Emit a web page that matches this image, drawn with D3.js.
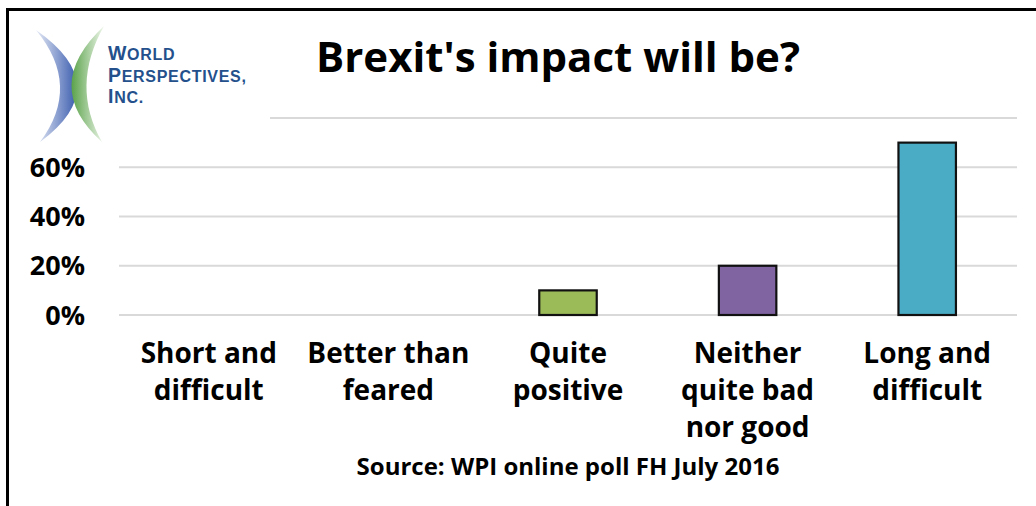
<!DOCTYPE html>
<html>
<head>
<meta charset="utf-8">
<script src="https://cdn.jsdelivr.net/npm/d3@7"></script>
<style>
  body { margin: 0; background: #fff; }
  svg { display: block; font-family: "Open Sans", sans-serif; }
</style>
</head>
<body>
<svg width="1036" height="506"></svg>
<script>
// poll answers, one entry per column (lines of the label)
var categories = [
  ["Short and", "difficult"],
  ["Better than", "feared"],
  ["Quite", "positive"],
  ["Neither", "quite bad", "nor good"],
  ["Long and", "difficult"]
];
var shares = [0, 0, 0.10, 0.20, 0.70];
var barColors = ["#9bbb59", "#9bbb59", "#9bbb59", "#8064a2", "#4bacc6"];
var yTicks = [0, 0.2, 0.4, 0.6, 0.8];
var title = "Brexit's impact will be?";
var source = "Source: WPI online poll FH July 2016";

var svg = d3.select("svg"),
    margin = {top: 118, right: 19, bottom: 191, left: 119},
    width = +svg.attr("width") - margin.left - margin.right,
    height = +svg.attr("height") - margin.top - margin.bottom;

var x = d3.scaleBand()
    .domain(d3.range(categories.length))
    .range([margin.left, margin.left + width])
    .paddingInner(0.68)
    .paddingOuter(0.34);

var y = d3.scaleLinear()
    .domain([0, 0.8])
    .range([margin.top + height, margin.top]);

// frame: only top and left edges show
svg.append("path")
    .attr("d", "M7.5,506 V9.5 H1036")
    .attr("fill", "none")
    .attr("stroke", "#000")
    .attr("stroke-width", 3);

// gridlines
svg.append("g")
  .selectAll("line")
  .data(yTicks)
  .join("line")
    .attr("x1", margin.left)
    .attr("x2", margin.left + width)
    .attr("y1", function(d) { return y(d); })
    .attr("y2", function(d) { return y(d); })
    .attr("stroke", "#d9d9d9")
    .attr("stroke-width", 2);

// y labels
svg.append("g")
  .selectAll("text")
  .data(yTicks)
  .join("text")
    .attr("x", 85)
    .attr("y", function(d) { return y(d); })
    .attr("dy", "0.36em")
    .attr("text-anchor", "end")
    .attr("font-size", 27)
    .attr("font-weight", "bold")
    .attr("fill", "#000")
    .text(d3.format(".0%"));

// bars
var idx = d3.range(shares.length).filter(function(i) { return shares[i] > 0; });
svg.append("g")
  .selectAll("rect")
  .data(idx)
  .join("rect")
    .attr("x", function(i) { return x(i); })
    .attr("width", x.bandwidth())
    .attr("y", function(i) { return y(shares[i]); })
    .attr("height", function(i) { return y(0) - y(shares[i]); })
    .attr("fill", function(i) { return barColors[i]; })
    .attr("stroke", "#111")
    .attr("stroke-width", 2.2);

// category labels
var cat = svg.append("g")
  .selectAll("text")
  .data(categories)
  .join("text")
    .attr("text-anchor", "middle")
    .attr("font-size", 28)
    .attr("font-weight", "bold")
    .attr("fill", "#000");
cat.selectAll("tspan")
  .data(function(d, i) { return d.map(function(s) { return {s: s, i: i}; }); })
  .join("tspan")
    .attr("x", function(d) { return x(d.i) + x.bandwidth() / 2; })
    .attr("y", function(d, j) { return 363 + j * 37; })
    .text(function(d) { return d.s; });

// title
svg.append("text")
    .attr("x", 558)
    .attr("y", 72)
    .attr("text-anchor", "middle")
    .attr("font-size", 42)
    .attr("font-weight", "bold")
    .attr("fill", "#000")
    .text(title);

// source note
svg.append("text")
    .attr("x", 568)
    .attr("y", 475)
    .attr("text-anchor", "middle")
    .attr("font-size", 24)
    .attr("font-weight", "bold")
    .attr("fill", "#000")
    .text(source);

// logo sits on a white patch over the top corner of the plot
var logo = svg.append("g");
logo.append("rect")
    .attr("x", 30).attr("y", 13)
    .attr("width", 240).attr("height", 119)
    .attr("fill", "#fff");

var defs = svg.append("defs");
var gb = defs.append("linearGradient").attr("id", "gb").attr("x1", 0).attr("x2", 1);
gb.append("stop").attr("offset", 0).attr("stop-color", "#e4e9f5");
gb.append("stop").attr("offset", 1).attr("stop-color", "#3a5cae");
var gg = defs.append("linearGradient").attr("id", "gg").attr("x1", 0).attr("x2", 1);
gg.append("stop").attr("offset", 0).attr("stop-color", "#5aa24a");
gg.append("stop").attr("offset", 1).attr("stop-color", "#eef6ea");

logo.append("path")
    .attr("d", "M36,30 Q116,86 40,142 Q82,86 36,30 Z")
    .attr("fill", "url(#gb)");
logo.append("path")
    .attr("d", "M104,26 Q40,86 102,142 Q70,86 104,26 Z")
    .attr("fill", "url(#gg)");

var logoLines = [["W", "ORLD"], ["P", "ERSPECTIVES,"], ["I", "NC."]];
var lt = logo.selectAll("text.logo")
  .data(logoLines)
  .join("text")
    .attr("class", "logo")
    .attr("x", 108)
    .attr("y", function(d, i) { return 60 + i * 21.5; })
    .attr("font-family", "'Liberation Sans', sans-serif")
    .attr("font-weight", "bold")
    .attr("letter-spacing", 0.7)
    .attr("fill", "#24508c");
lt.append("tspan").attr("font-size", 19.5).text(function(d) { return d[0]; });
lt.append("tspan").attr("font-size", 16).text(function(d) { return d[1]; });
</script>
</body>
</html>
